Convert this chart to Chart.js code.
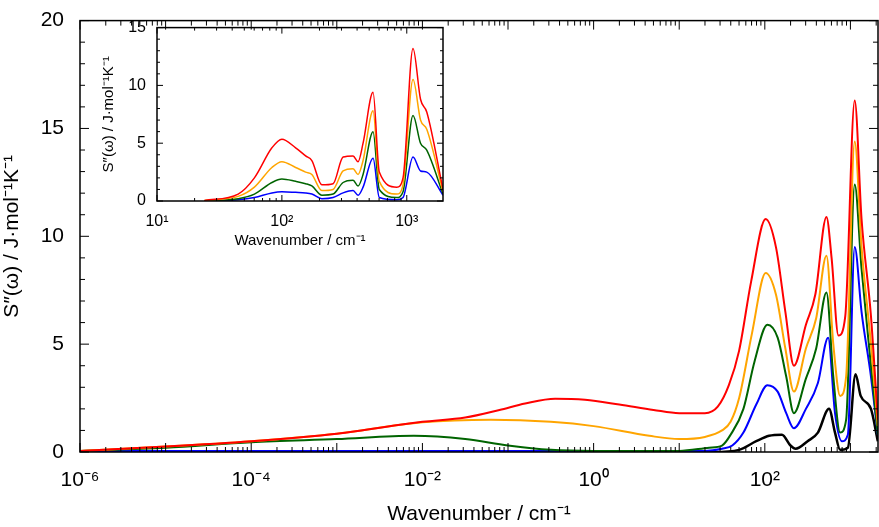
<!DOCTYPE html>
<html>
<head>
<meta charset="utf-8">
<script src="https://cdn.jsdelivr.net/npm/chart.js@4.4.1/dist/chart.umd.min.js"></script>
<style>
  body { margin: 0; background: #fff; }
  #wrap { position: relative; width: 879px; height: 527px; }
  #mainChart { position: absolute; left: 0; top: 0; }
  #insetChart { position: absolute; left: 100px; top: 15px; }
</style>
</head>
<body>
<div id="wrap">
  <canvas id="mainChart" width="879" height="527"></canvas>
  <canvas id="insetChart" width="350" height="235"></canvas>
</div>
<script>
// main chart: log10 of wavenumber and S''(w) for each series
const redLog = [-6, -5, -4, -3, -2, -1.5, -1.1, -0.8, -0.45, -0.1, 0.3, 0.7, 1.0, 1.3, 1.45, 1.58, 1.70, 1.84, 2.01, 2.13, 2.24, 2.34, 2.48, 2.59, 2.72, 2.78, 2.86, 2.94, 3.05, 3.13, 3.24, 3.32];
const redVal = [0.05, 0.25, 0.5, 0.85, 1.4, 1.6, 1.95, 2.25, 2.47, 2.42, 2.2, 1.95, 1.8, 1.8, 2.1, 3.1, 4.7, 7.9, 10.8, 9.5, 6.5, 4.0, 5.9, 7.3, 10.9, 9.0, 5.4, 6.3, 16.3, 10.8, 6.3, 1.5];
const orangeLog = [-6, -5, -4, -3, -2, -1.2, -0.5, 0, 0.65, 1.0, 1.3, 1.5, 1.6, 1.7, 1.85, 2.01, 2.13, 2.24, 2.34, 2.48, 2.6, 2.72, 2.8, 2.88, 2.95, 3.05, 3.13, 3.24, 3.32];
const orangeVal = [0.05, 0.25, 0.5, 0.85, 1.38, 1.5, 1.4, 1.2, 0.75, 0.6, 0.7, 1.0, 1.4, 2.5, 5.5, 8.3, 7.3, 4.8, 2.8, 4.8, 6.2, 9.1, 5.0, 2.6, 3.5, 14.4, 9.5, 5.0, 1.2];
const greenLog = [-6, -5, -4, -3, -2.1, -1.5, -1, -0.5, 0, 1, 1.35, 1.5, 1.6, 1.75, 1.88, 2.03, 2.15, 2.25, 2.34, 2.48, 2.6, 2.72, 2.8, 2.88, 2.95, 3.05, 3.13, 3.24, 3.32];
const greenVal = [0.05, 0.2, 0.45, 0.6, 0.75, 0.6, 0.3, 0.1, 0.05, 0.05, 0.2, 0.3, 0.8, 2.0, 4.2, 5.9, 5.3, 3.5, 1.8, 3.4, 4.8, 7.4, 3.5, 0.9, 1.5, 12.4, 8.5, 4.0, 0.8];
const blueLog = [-6, 1.3, 1.5, 1.62, 1.75, 1.9, 2.03, 2.15, 2.25, 2.34, 2.48, 2.62, 2.74, 2.82, 2.9, 2.97, 3.05, 3.13, 3.24, 3.32];
const blueVal = [0.05, 0.05, 0.15, 0.3, 0.9, 2.2, 3.1, 2.8, 1.8, 1.1, 2.0, 3.2, 5.3, 1.8, 0.5, 0.8, 9.5, 6.5, 3.5, 0.8];
const blackLog = [-6, 1.4, 1.7, 1.9, 2.05, 2.2, 2.3, 2.36, 2.5, 2.62, 2.75, 2.82, 2.88, 2.97, 3.06, 3.12, 3.24, 3.32];
const blackVal = [0, 0, 0.1, 0.5, 0.75, 0.8, 0.3, 0.15, 0.5, 0.9, 2.0, 0.9, 0.1, 0.2, 3.6, 2.6, 2.0, 0.5];

// inset chart: shared log10 wavenumber grid
const insetLog = [1.38, 1.65, 1.78, 1.92, 2.0, 2.11, 2.19, 2.24, 2.32, 2.41, 2.49, 2.57, 2.61, 2.65, 2.73, 2.78, 2.92, 2.97, 3.05, 3.11, 3.16, 3.29];
const insetRed = [0.05, 0.6, 2.0, 4.6, 5.35, 4.6, 3.9, 3.5, 1.4, 1.5, 3.8, 3.9, 3.4, 5.0, 9.4, 2.5, 1.2, 2.0, 13.2, 8.8, 7.7, 1.0];
const insetOrange = [0.05, 0.4, 1.2, 2.9, 3.4, 2.9, 2.5, 2.3, 0.9, 1.0, 2.6, 2.8, 2.3, 3.5, 7.8, 1.7, 0.6, 1.4, 10.5, 7.0, 6.2, 0.8];
const insetGreen = [0.02, 0.2, 0.6, 1.6, 1.9, 1.7, 1.5, 1.3, 0.5, 0.6, 1.6, 1.8, 1.3, 2.3, 6.0, 1.0, 0.3, 0.8, 7.4, 5.0, 4.4, 0.6];
const insetBlue = [0.01, 0.1, 0.3, 0.7, 0.8, 0.75, 0.7, 0.6, 0.2, 0.3, 0.7, 0.9, 0.5, 1.2, 3.7, 0.3, 0.1, 0.3, 3.8, 2.6, 2.5, 0.5];

const mainXTicks = [-6, -4, -2, 0, 2];
const insetXTicks = [1, 2, 3];

const FONT = "'Liberation Sans', Arial, sans-serif";
const supMap = { "-": "⁻", "0": "⁰", "1": "¹", "2": "²", "3": "³", "4": "⁴", "5": "⁵", "6": "⁶", "7": "⁷", "8": "⁸", "9": "⁹" };
function pow10Label(e) {
  return "10" + String(e).split("").map(c => supMap[c]).join("");
}

function toPoints(logs, vals) {
  return logs.map((l, i) => ({ x: Math.pow(10, l), y: vals[i] }));
}

function makeSet(logs, vals, color, width) {
  return {
    data: toPoints(logs, vals),
    borderColor: color,
    borderWidth: width,
    pointRadius: 0,
    showLine: true,
    fill: false,
    cubicInterpolationMode: "monotone"
  };
}

function logTicks(minE, maxE, xMax) {
  const t = [];
  for (let e = minE; e <= maxE; e++) {
    for (let m = 1; m < 10; m++) {
      const v = m * Math.pow(10, e);
      if (v <= xMax) t.push({ value: v });
    }
  }
  return t;
}

// frame and inward ticks on all four sides
const frameTicks = {
  id: "frameTicks",
  afterDraw(chart, args, opts) {
    const ctx = chart.ctx;
    const a = chart.chartArea;
    const xs = chart.scales.x, ys = chart.scales.y;
    ctx.save();
    ctx.strokeStyle = "#000";
    ctx.lineWidth = 1.5;
    ctx.strokeRect(a.left, a.top, a.right - a.left, a.bottom - a.top);
    ctx.lineWidth = 1;
    ctx.beginPath();
    xs.ticks.forEach(t => {
      const px = xs.getPixelForValue(t.value);
      if (px < a.left - 0.5 || px > a.right + 0.5) return;
      const major = Math.abs(Math.log10(t.value) - Math.round(Math.log10(t.value))) < 1e-6;
      const len = major ? opts.major : opts.minor;
      ctx.moveTo(px, a.bottom); ctx.lineTo(px, a.bottom - len);
      ctx.moveTo(px, a.top); ctx.lineTo(px, a.top + len);
    });
    ys.ticks.forEach(t => {
      const py = ys.getPixelForValue(t.value);
      const len = t.value % 5 === 0 ? opts.major : opts.minor;
      ctx.moveTo(a.left, py); ctx.lineTo(a.left + len, py);
      ctx.moveTo(a.right, py); ctx.lineTo(a.right - len, py);
    });
    ctx.stroke();
    ctx.restore();
  }
};

function axisOptions(cfg) {
  return {
    x: {
      type: "logarithmic",
      min: cfg.xMin, max: cfg.xMax,
      afterBuildTicks: s => { s.ticks = logTicks(cfg.eMin, cfg.eMax, cfg.xMax); },
      afterFit: s => { s.height = cfg.xHeight; s.paddingRight = 0; },
      grid: { display: false },
      border: { display: false },
      ticks: {
        autoSkip: false, maxRotation: 0, color: "#000", padding: cfg.tickPad,
        font: { family: FONT, size: cfg.tickSize },
        callback: v => {
          const e = Math.log10(v);
          return cfg.labelled.some(k => Math.abs(k - e) < 1e-6) ? pow10Label(Math.round(e)) : "";
        }
      },
      title: { display: true, text: "Wavenumber / cm⁻¹", color: "#000", padding: 0,
               font: { family: FONT, size: cfg.titleSize } }
    },
    y: {
      min: 0, max: cfg.yMax,
      afterBuildTicks: s => {
        const t = [];
        for (let v = 0; v <= cfg.yMax; v++) t.push({ value: v });
        s.ticks = t;
      },
      afterFit: s => { s.width = cfg.yWidth; },
      grid: { display: false },
      border: { display: false },
      ticks: {
        autoSkip: false, color: "#000", padding: cfg.tickPad,
        font: { family: FONT, size: cfg.tickSize },
        callback: v => (v % 5 === 0 ? String(v) : "")
      },
      title: { display: true, text: "S″(ω) / J·mol⁻¹K⁻¹", color: "#000", padding: 0,
               font: { family: FONT, size: cfg.titleSize } }
    }
  };
}

new Chart(document.getElementById("mainChart").getContext("2d"), {
  type: "scatter",
  data: {
    datasets: [
      makeSet(redLog, redVal, "#ff0000", 2),
      makeSet(orangeLog, orangeVal, "#ffa500", 2),
      makeSet(greenLog, greenVal, "#006400", 2),
      makeSet(blueLog, blueVal, "#0000ff", 2),
      makeSet(blackLog, blackVal, "#000000", 2.5)
    ]
  },
  options: {
    responsive: false, animation: false,
    layout: { padding: { top: 8, right: 1, left: 0, bottom: 0 } },
    plugins: { legend: { display: false }, tooltip: { enabled: false },
               frameTicks: { major: 9, minor: 5 } },
    scales: axisOptions({ xMin: 1e-6, xMax: 2100, eMin: -6, eMax: 3, labelled: mainXTicks,
                          xHeight: 75, yWidth: 80, yMax: 20, tickSize: 21, titleSize: 21, tickPad: 8 })
  },
  plugins: [frameTicks]
});

new Chart(document.getElementById("insetChart").getContext("2d"), {
  type: "scatter",
  data: {
    datasets: [
      makeSet(insetLog, insetRed, "#ff0000", 1.5),
      makeSet(insetLog, insetOrange, "#ffa500", 1.5),
      makeSet(insetLog, insetGreen, "#006400", 1.5),
      makeSet(insetLog, insetBlue, "#0000ff", 1.5)
    ]
  },
  options: {
    responsive: false, animation: false,
    layout: { padding: { top: 10, right: 7, left: 0, bottom: 0 } },
    plugins: { legend: { display: false }, tooltip: { enabled: false },
               frameTicks: { major: 6, minor: 3 } },
    scales: axisOptions({ xMin: 10, xMax: 1950, eMin: 1, eMax: 3, labelled: insetXTicks,
                          xHeight: 49, yWidth: 57, yMax: 15, tickSize: 16, titleSize: 15, tickPad: 3 })
  },
  plugins: [frameTicks]
});
</script>
</body>
</html>
